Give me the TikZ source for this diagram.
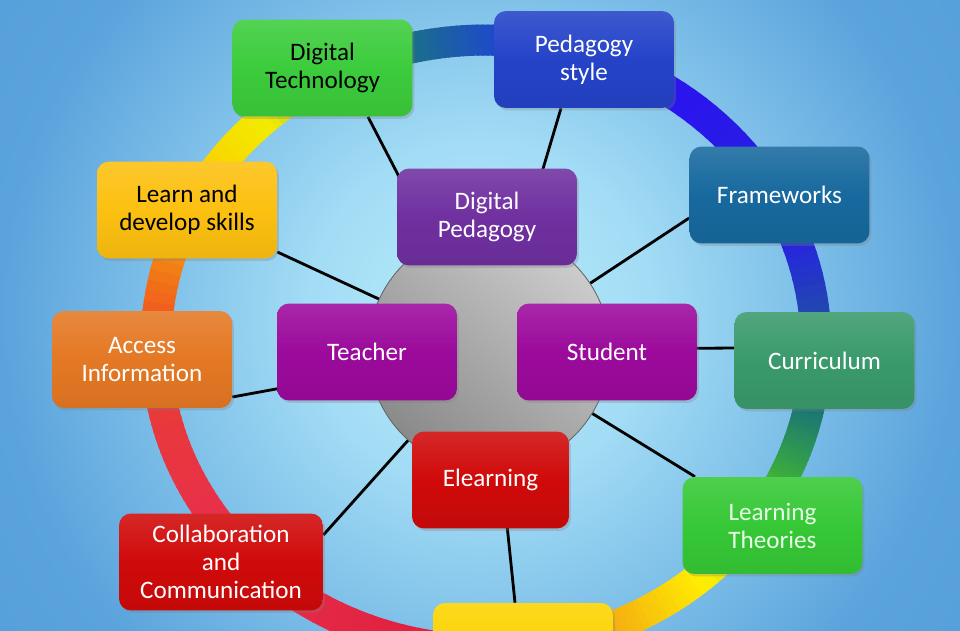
\documentclass[tikz,border=0pt]{standalone}
\usepackage{fontspec}
\setmainfont{Carlito}
\usepackage{tikz}
\usetikzlibrary{backgrounds,shadows,calc}

\definecolor{bgin}{HTML}{B8ECFA}
\definecolor{bgmid}{HTML}{A2DCF5}
\definecolor{bgout}{HTML}{5AA3DC}
\definecolor{bgcorner}{HTML}{4A95D5}
\pgfdeclareradialshading{bgshade}{\pgfpoint{0bp}{0bp}}{color(0bp)=(bgin); color(9bp)=(bgmid); color(25bp)=(bgout); color(50bp)=(bgcorner)}

% ring colours
\definecolor{rA}{HTML}{F2EC00}
\definecolor{rB}{HTML}{1A6E8A}
\definecolor{rC}{HTML}{1E4CC8}
\definecolor{rD}{HTML}{2A14EE}
\definecolor{rE}{HTML}{2626DC}
\definecolor{rF}{HTML}{1A7575}
\definecolor{rG}{HTML}{3CAD3C}
\definecolor{rH}{HTML}{FFF000}
\definecolor{rI}{HTML}{F5B010}
\definecolor{rJ}{HTML}{E02040}
\definecolor{rK}{HTML}{E8304A}
\definecolor{rL}{HTML}{E83A3A}
\definecolor{rM}{HTML}{F05A1E}
\definecolor{rO}{HTML}{F8D800}

% box colours
\definecolor{dpurple}{HTML}{7030A0}
\definecolor{mpurple}{HTML}{9C0A9C}
\definecolor{ered}{HTML}{D00A0A}
\definecolor{tgreen}{HTML}{3CCC3C}
\definecolor{pblue}{HTML}{2443C8}
\definecolor{lgold}{HTML}{FCC010}
\definecolor{fblue}{HTML}{17699E}
\definecolor{aorange}{HTML}{E47824}
\definecolor{cteal}{HTML}{3A9A6C}
\definecolor{lgreen}{HTML}{36C836}
\definecolor{ltext}{HTML}{E6FFE6}
\definecolor{ybox}{HTML}{FCD400}

\begin{document}
\begin{tikzpicture}[x=0.02cm, y=0.02cm,
  box/.style={rounded corners=0.24cm, minimum width=3.6cm, minimum height=1.94cm, align=center, inner sep=2pt, text=white, font=\fontsize{14.3}{16}\selectfont, drop shadow={shadow xshift=0.04cm, shadow yshift=-0.05cm, opacity=0.3}},
  fillc/.style={top color=#1!88!white, bottom color=#1!94!black, middle color=#1},
  ringseg/.style={line width=0.62cm},
  link/.style={line width=1.6pt, black}]
\useasboundingbox (0,0) rectangle (960,630);

\begin{scope}[on background layer]
% background
\begin{scope}
\clip (0,0) rectangle (960,630);
\shade[shading=bgshade] (0,-165) rectangle (960,795);
\end{scope}
% ring
\coordinate (ringc) at (486,285);
\foreach \a/\b/\ca/\cb in {132/103/rA/rB, 103/89/rB/rC, 89/55/rC/rD, 55/19/rD/rE, 19/-12/rE/rF, -12/-26/rF/rG, -26/-49/rG/rH, -49/-67/rH/rI, -67/-99/rI/rJ, -99/-147/rJ/rK, -147/-168/rK/rL, -168/-186/rL/rM, -186/-217/rM/rO, -217/-228/rO/rA}{
  \foreach \i in {0,...,15}{
    \pgfmathsetmacro\s{\a+(\b-\a)*\i/16}
    \pgfmathsetmacro\e{\a+(\b-\a)*(\i+1)/16-0.4}
    \pgfmathtruncatemacro\p{100-100*(\i+0.5)/16}
    \draw[ringseg, draw=\ca!\p!\cb] ([shift={(\s:330 and 305)}]ringc) arc[start angle=\s, end angle=\e, x radius=330, y radius=305];
  }
}
\end{scope}

% nodes
\node[circle, minimum size=4.84cm, inner sep=0pt, draw=black!60, line width=0.5pt, top color=gray!40, bottom color=gray!92, shading angle=-40] (hub) at (489,280) {};

\node[box, fillc=dpurple] (dped) at (487,413) {Digital\\Pedagogy};
\node[box, fillc=mpurple] (teacher) at (367,278) {Teacher};
\node[box, fillc=mpurple] (student) at (607,278) {Student};
\node[box, fillc=ered, minimum width=3.14cm] (elearn) at (490.5,150) {Elearning};

\node[box, fillc=tgreen, text=black] (dtech) at (322.5,562) {Digital\\Technology};
\node[box, fillc=pblue] (pstyle) at (584,570.5) {Pedagogy\\style};
\node[box, fillc=lgold, text=black] (learn) at (187,420) {Learn and\\develop skills};
\node[box, fillc=fblue] (frame) at (779.5,435) {Frameworks};
\node[box, fillc=aorange] (access) at (142,270.5) {Access\\Information};
\node[box, fillc=cteal] (curr) at (824.5,269.5) {Curriculum};
\node[box, fillc=lgreen, text=ltext] (ltheo) at (772.5,104.5) {Learning\\Theories};
\node[box, fillc=ered, minimum width=4.08cm] (collab) at (221,68) {Collaboration\\and\\Communication};
\node[box, fillc=ybox] (ybot) at (523,-21.5) {};

% links
\begin{scope}[on background layer]
\draw[link] (hub.center) -- ($(dtech.south)+(45.5,0)$);
\draw[link] (hub.center) -- ($(pstyle.south)+(-23,0)$);
\draw[link] (hub.center) -- ($(learn.east)+(0,-42)$);
\draw[link] (hub.center) -- ($(frame.west)+(0,-23)$);
\draw[link] (hub.center) -- ($(access.east)+(0,-37.5)$);
\draw[link] (hub.center) -- ($(curr.west)+(0,12.5)$);
\draw[link] (hub.center) -- ($(collab.east)+(0,27)$);
\draw[link] (hub.center) -- ($(ltheo.north)+(-77.5,0)$);
\draw[link] (hub.center) -- ($(ybot.north)+(-8,0)$);
\end{scope}

\end{tikzpicture}
\end{document}
